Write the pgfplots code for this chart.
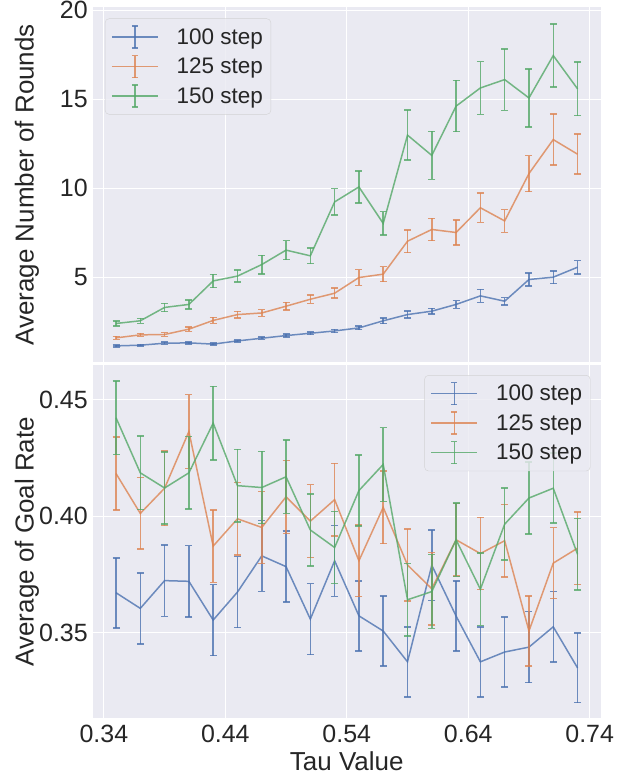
\documentclass[border=0pt]{standalone}
\usepackage{pgfplots}
\usepackage{pgfplotstable}
\pgfplotsset{compat=1.18}
\usepackage{fontspec}
\setmainfont{Liberation Sans}
\definecolor{sbbg}{HTML}{EAEAF2}
\definecolor{sbblue}{HTML}{4C72B0}
\definecolor{sborange}{HTML}{DD8452}
\definecolor{sbgreen}{HTML}{55A868}
\definecolor{sbtext}{HTML}{262626}
\definecolor{sbedge}{HTML}{CCCCCC}

\pgfplotstableread{
x y e
0.35 1.14 0.05
0.37 1.18 0.05
0.39 1.29 0.07
0.41 1.31 0.06
0.43 1.24 0.05
0.45 1.42 0.06
0.47 1.57 0.07
0.49 1.72 0.08
0.51 1.85 0.08
0.53 1.98 0.09
0.55 2.15 0.10
0.57 2.55 0.16
0.59 2.90 0.20
0.61 3.09 0.16
0.63 3.47 0.22
0.65 3.95 0.36
0.67 3.65 0.20
0.69 4.87 0.37
0.71 5.00 0.36
0.73 5.56 0.37
}\topblue
\pgfplotstableread{
x y e
0.35 1.59 0.08
0.37 1.76 0.08
0.39 1.78 0.11
0.41 2.08 0.12
0.43 2.57 0.17
0.45 2.90 0.18
0.47 2.99 0.19
0.49 3.37 0.22
0.51 3.76 0.23
0.53 4.10 0.28
0.55 4.98 0.44
0.57 5.17 0.42
0.59 7.02 0.64
0.61 7.68 0.62
0.63 7.51 0.69
0.65 8.90 0.82
0.67 8.16 0.64
0.69 10.82 1.01
0.71 12.73 1.43
0.73 11.91 1.12
}\toporange
\pgfplotstableread{
x y e
0.35 2.40 0.15
0.37 2.55 0.14
0.39 3.30 0.23
0.41 3.47 0.25
0.43 4.79 0.37
0.45 5.06 0.34
0.47 5.71 0.52
0.49 6.52 0.53
0.51 6.20 0.44
0.53 9.23 0.75
0.55 10.07 0.90
0.57 8.02 0.66
0.59 12.98 1.40
0.61 11.84 1.35
0.63 14.61 1.44
0.65 15.63 1.48
0.67 16.10 1.73
0.69 15.07 1.63
0.71 17.45 1.77
0.73 15.58 1.51
}\topgreen
\pgfplotstableread{
x y e
0.35 0.3672 0.0150
0.37 0.3605 0.0152
0.39 0.3724 0.0153
0.41 0.3721 0.0153
0.43 0.3555 0.0152
0.45 0.3675 0.0152
0.47 0.3830 0.0152
0.49 0.3784 0.0152
0.51 0.3559 0.0152
0.53 0.3809 0.0152
0.55 0.3573 0.0150
0.57 0.3508 0.0150
0.59 0.3376 0.0150
0.61 0.3790 0.0152
0.63 0.3572 0.0150
0.65 0.3376 0.0150
0.67 0.3418 0.0150
0.69 0.3439 0.0152
0.71 0.3526 0.0151
0.73 0.3350 0.0149
}\botblue
\pgfplotstableread{
x y e
0.35 0.4183 0.0156
0.37 0.4012 0.0153
0.39 0.4120 0.0160
0.41 0.4363 0.0158
0.43 0.3872 0.0155
0.45 0.3989 0.0155
0.47 0.3952 0.0154
0.49 0.4083 0.0156
0.51 0.3979 0.0156
0.53 0.4071 0.0156
0.55 0.3809 0.0154
0.57 0.4038 0.0155
0.59 0.3791 0.0154
0.61 0.3689 0.0155
0.63 0.3899 0.0155
0.65 0.3840 0.0155
0.67 0.3895 0.0155
0.69 0.3508 0.0150
0.71 0.3799 0.0152
0.73 0.3863 0.0155
}\bororange
\pgfplotstableread{
x y e
0.35 0.4422 0.0158
0.37 0.4186 0.0158
0.39 0.4121 0.0155
0.41 0.4186 0.0155
0.43 0.4399 0.0158
0.45 0.4131 0.0156
0.47 0.4123 0.0155
0.49 0.4169 0.0157
0.51 0.3941 0.0155
0.53 0.3866 0.0155
0.55 0.4110 0.0152
0.57 0.4222 0.0158
0.59 0.3642 0.0155
0.61 0.3677 0.0158
0.63 0.3899 0.0157
0.65 0.3687 0.0155
0.67 0.3966 0.0154
0.69 0.4078 0.0155
0.71 0.4120 0.0150
0.73 0.3837 0.0154
}\botgreen

\pgfplotsset{
  sbaxis/.style={
    scale only axis, width=508pt,
    xmin=0.331, xmax=0.749,
    axis background/.style={fill=sbbg},
    axis line style={draw=none},
    major tick length=0pt,
    grid=major,
    major grid style={white, line width=1.2pt},
    xtick={0.34,0.44,0.54,0.64,0.74},
    /pgf/number format/assume math mode=true,
    tick label style={font=\fontsize{25}{25}\selectfont, text=sbtext},
    xticklabel style={inner sep=0pt, anchor=north, yshift=-7pt, /pgf/number format/.cd, fixed, fixed zerofill, precision=2},
    yticklabel style={inner sep=0pt, anchor=east, xshift=-5pt},
    xlabel style={font=\fontsize{26}{26}\selectfont, text=sbtext},
    ylabel style={font=\fontsize{26}{26}\selectfont, text=sbtext, at={(axis description cs:-0.13,0.5)}, rotate=0, anchor=center},
    legend cell align=left,
    legend style={font=\fontsize{22.5}{22.5}\selectfont, text=sbtext, fill=sbbg, fill opacity=0.8, text opacity=1, draw=sbedge, draw opacity=0.8, rounded corners=4pt, inner xsep=6pt, inner ysep=6.6pt, row sep=6pt, nodes={inner sep=2pt}, /tikz/every odd column/.append style={column sep=16pt}},
    legend image code/.code={
      \draw[#1, line width=1.5pt] (0pt,0pt) -- (46pt,0pt);
      \draw[#1, line width=1.5pt] (23pt,-11pt) -- (23pt,11pt);
      \draw[#1, line width=1.5pt] (20pt,-11pt) -- (26pt,-11pt);
      \draw[#1, line width=1.5pt] (20pt,11pt) -- (26pt,11pt);
    },
  },
  sbplot/.style={color=#1, opacity=0.8, line width=1.5pt, mark=none,
    error bars/.cd, y dir=both, y explicit,
    error bar style={line width=1.5pt, opacity=0.8},
    error mark options={rotate=90, mark size=3.5pt, line width=1.5pt}},
}

\begin{document}
\begin{tikzpicture}
\begin{axis}[sbaxis, height=355pt,
  at={(93pt,-7pt)}, anchor=north west,
  ymin=0.22, ymax=20.15, ytick={5,10,15,20},
  xticklabels={},
  ylabel={Average Number of Rounds},
  legend style={at={(axis description cs:0.0236,0.969)}, anchor=north west}]
\addplot[sbplot=sbblue] table[x=x, y=y, y error=e] {\topblue};
\addlegendentry{100 step}
\addplot[sbplot=sborange] table[x=x, y=y, y error=e] {\toporange};
\addlegendentry{125 step}
\addplot[sbplot=sbgreen] table[x=x, y=y, y error=e] {\topgreen};
\addlegendentry{150 step}
\end{axis}
\begin{axis}[sbaxis, height=353pt,
  at={(93pt,-365pt)}, anchor=north west,
  ymin=0.3135, ymax=0.4647, ytick={0.35,0.40,0.45},
  yticklabel style={/pgf/number format/.cd, fixed, fixed zerofill, precision=2},
  xlabel={Tau Value},
  xlabel style={at={(axis description cs:0.5,0)}, anchor=north, yshift=-33pt, inner sep=0pt},
  ylabel={Average of Goal Rate},
  legend style={at={(axis description cs:0.980,0.972)}, anchor=north east}]
\addplot[sbplot=sbblue] table[x=x, y=y, y error=e] {\botblue};
\addlegendentry{100 step}
\addplot[sbplot=sborange] table[x=x, y=y, y error=e] {\bororange};
\addlegendentry{125 step}
\addplot[sbplot=sbgreen] table[x=x, y=y, y error=e] {\botgreen};
\addlegendentry{150 step}
\end{axis}
\path (0pt,0.5pt) rectangle (629pt,-776pt);
\end{tikzpicture}
\end{document}
